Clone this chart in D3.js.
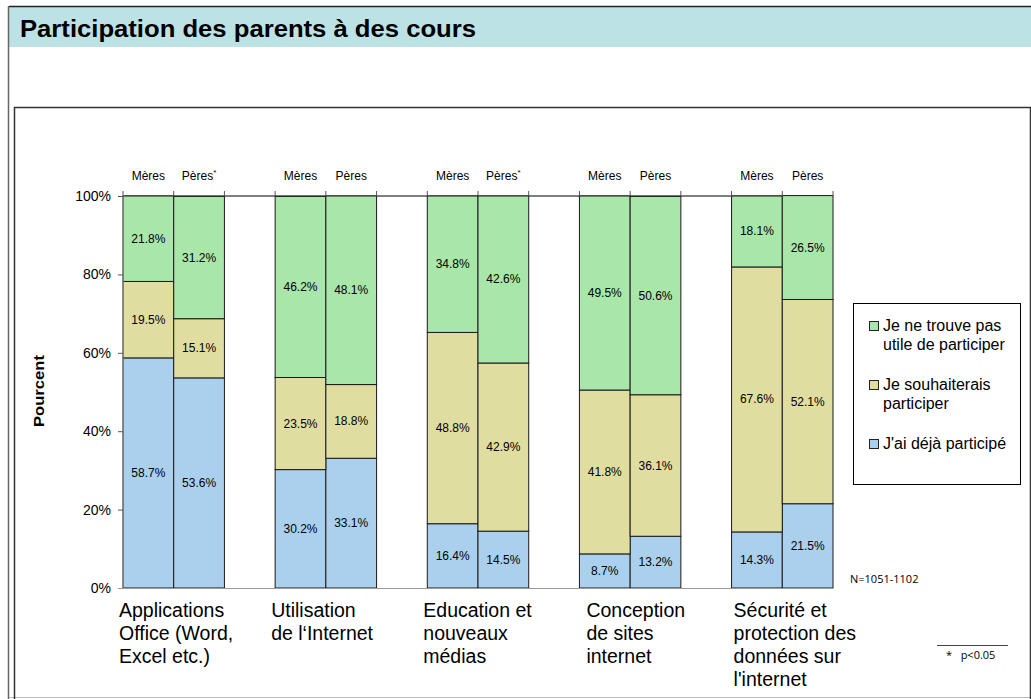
<!DOCTYPE html>
<html>
<head>
<meta charset="utf-8">
<script src="https://cdn.jsdelivr.net/npm/d3@7"></script>
<style>
  body { margin: 0; background: #fff; }
  svg { display: block; font-family: "Liberation Sans", Arial, sans-serif; }
</style>
</head>
<body>
<div id="chart"></div>
<script>
// categories and series
const categories = [
  ["Applications", "Office (Word,", "Excel etc.)"],
  ["Utilisation", "de l\u2018Internet"],
  ["Education et", "nouveaux", "médias"],
  ["Conception", "de sites", "internet"],
  ["Sécurité et", "protection des", "données sur", "l'internet"]
];
const parents = ["Mères", "Pères"];
const starred = [[false, true], [false, false], [false, true], [false, false], [false, false]];
const seriesKeys = ["deja", "souhait", "inutile"];
const seriesNames = {
  inutile: ["Je ne trouve pas", "utile de participer"],
  souhait: ["Je souhaiterais", "participer"],
  deja: ["J'ai déjà participé"]
};
// [Mères, Pères] per category
const deja    = [[58.7, 53.6], [30.2, 33.1], [16.4, 14.5], [8.7, 13.2], [14.3, 21.5]];
const souhait = [[19.5, 15.1], [23.5, 18.8], [48.8, 42.9], [41.8, 36.1], [67.6, 52.1]];
const inutile = [[21.8, 31.2], [46.2, 48.1], [34.8, 42.6], [49.5, 50.6], [18.1, 26.5]];
const yTicks = [0, 20, 40, 60, 80, 100];

const colors = { inutile: "#a9e6a9", souhait: "#e0dda0", deja: "#abd0ee" };

const W = 1031, H = 699;
const svg = d3.select("#chart").append("svg").attr("width", W).attr("height", H);

// frame + header
svg.append("rect").attr("x", 9).attr("y", 6).attr("width", W - 9).attr("height", 41).attr("fill", "#bce2e5");
svg.append("line").attr("x1", 9).attr("x2", W).attr("y1", 6.5).attr("y2", 6.5).attr("stroke", "#222").attr("stroke-width", 1.5);
svg.append("line").attr("x1", 8.5).attr("x2", 8.5).attr("y1", 6).attr("y2", H).attr("stroke", "#666").attr("stroke-width", 1.5);
svg.append("line").attr("x1", 9).attr("x2", W).attr("y1", 697.5).attr("y2", 697.5).attr("stroke", "#bbb");
svg.append("path").attr("d", "M14.5,699 V107.5 H1030.5 V699").attr("fill", "none").attr("stroke", "#333").attr("stroke-width", 1.5);
svg.append("text").attr("x", 20).attr("y", 37).attr("font-size", 23).attr("font-weight", "bold").attr("fill", "#000")
  .attr("textLength", 456).attr("lengthAdjust", "spacingAndGlyphs")
  .text("Participation des parents à des cours");

// scales
const x = d3.scaleBand().domain(d3.range(categories.length)).range([123, 833]).paddingInner(1 / 3).paddingOuter(0);
const xSub = d3.scaleBand().domain(parents).range([0, x.bandwidth()]);
const y = d3.scaleLinear().domain([0, 100]).range([588, 196]);

// rows for stack
const rows = [];
categories.forEach((c, i) => parents.forEach((p, j) => {
  rows.push({ cat: i, parent: p, deja: deja[i][j], souhait: souhait[i][j], inutile: inutile[i][j], star: starred[i][j] });
}));
const stacked = d3.stack().keys(seriesKeys)(rows);

// top line
svg.append("line").attr("x1", 123).attr("x2", 833).attr("y1", y(100)).attr("y2", y(100)).attr("stroke", "#000");

const g = svg.append("g");
stacked.forEach(s => {
  g.selectAll(null).data(s).enter().append("rect")
    .attr("x", d => x(d.data.cat) + xSub(d.data.parent))
    .attr("y", d => y(d[1]))
    .attr("width", xSub.bandwidth())
    .attr("height", d => y(d[0]) - y(d[1]))
    .attr("fill", colors[s.key])
    .attr("stroke", "#1a1a1a")
    .attr("stroke-width", 1);
  g.selectAll(null).data(s).enter().append("text")
    .attr("x", d => x(d.data.cat) + xSub(d.data.parent) + xSub.bandwidth() / 2)
    .attr("y", d => (y(d[0]) + y(d[1])) / 2 + 4)
    .attr("text-anchor", "middle").attr("font-size", 12).attr("fill", "#000")
    .text(d => d3.format(".1f")(d.data[s.key]) + "%");
});

// top tick marks at bar edges
const edges = [];
categories.forEach((c, i) => { edges.push(x(i), x(i) + xSub.bandwidth(), x(i) + x.bandwidth()); });
svg.selectAll(null).data(edges).enter().append("line")
  .attr("x1", d => d).attr("x2", d => d).attr("y1", y(100) - 5).attr("y2", y(100))
  .attr("stroke", "#555");

// parent labels
const pl = svg.selectAll(null).data(rows).enter().append("text")
  .attr("x", d => x(d.cat) + xSub(d.parent) + xSub.bandwidth() / 2)
  .attr("y", 180).attr("text-anchor", "middle").attr("font-size", 12).attr("fill", "#000")
  .text(d => d.parent);
pl.filter(d => d.star).append("tspan").attr("dy", -5).attr("font-size", 8).text("*");

// y axis
const yAxis = d3.axisLeft(y).tickValues(yTicks).tickFormat(d => d + "%").tickSize(5).tickPadding(7);
const ya = svg.append("g").attr("transform", "translate(123,0)").call(yAxis);
ya.select(".domain").attr("stroke", "#888").attr("d", "M0,196V588");
ya.selectAll(".tick line").attr("stroke", "#555");
ya.selectAll(".tick text").attr("font-size", 14).attr("fill", "#000").attr("font-family", "Liberation Sans, Arial, sans-serif");
svg.append("line").attr("x1", 118).attr("x2", 833).attr("y1", 588.5).attr("y2", 588.5).attr("stroke", "#999");

svg.append("text").attr("transform", "translate(44,391) rotate(-90)").attr("text-anchor", "middle")
  .attr("font-size", 15).attr("font-weight", "bold")
  .attr("textLength", 72).attr("lengthAdjust", "spacingAndGlyphs").text("Pourcent");

// category labels
const cl = svg.selectAll(null).data(categories).enter().append("text")
  .attr("x", (d, i) => x(i) - 4 + (i === 3 ? 11 : i === 4 ? 6 : 0))
  .attr("y", 617).attr("font-size", 19.5).attr("fill", "#000");
cl.selectAll("tspan").data(d => d).enter().append("tspan")
  .attr("x", function () { return d3.select(this.parentNode).attr("x"); })
  .attr("dy", (d, i) => i === 0 ? 0 : 23).text(d => d);

// legend
svg.append("rect").attr("x", 853.5).attr("y", 303.5).attr("width", 167).attr("height", 181)
  .attr("fill", "#fff").attr("stroke", "#000");
const legendOrder = ["inutile", "souhait", "deja"];
const lg = svg.selectAll(null).data(legendOrder).enter().append("g")
  .attr("transform", (d, i) => `translate(869,${331 + i * 59})`);
lg.append("rect").attr("x", 0.5).attr("y", -9.5).attr("width", 9).attr("height", 9)
  .attr("fill", d => colors[d]).attr("stroke", "#222");
const lt = lg.append("text").attr("x", 14).attr("y", 0).attr("font-size", 16).attr("fill", "#000");
lt.selectAll("tspan").data(d => seriesNames[d]).enter().append("tspan")
  .attr("x", 14).attr("dy", (d, i) => i === 0 ? 0 : 19).text(d => d);

// notes
svg.append("text").attr("x", 850).attr("y", 583).attr("font-size", 11).attr("font-family", "Open Sans, sans-serif").text("N=1051-1102");
svg.append("line").attr("x1", 937).attr("x2", 1008).attr("y1", 645.5).attr("y2", 645.5).attr("stroke", "#444");
svg.append("text").attr("x", 946).attr("y", 659).attr("font-size", 11).attr("font-family", "Open Sans, sans-serif")
  .attr("xml:space", "preserve").text("*   p<0.05");
</script>
</body>
</html>
